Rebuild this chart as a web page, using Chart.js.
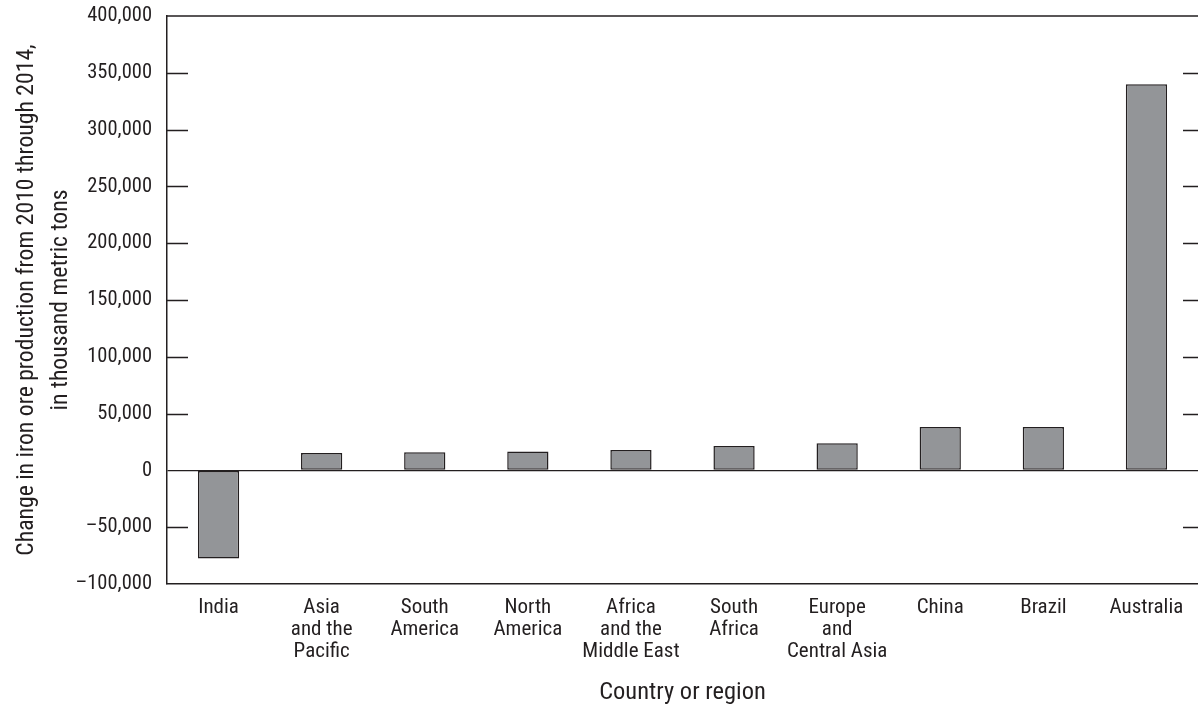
<!doctype html>
<html lang="en">
  <head>
    <meta charset="UTF-8" />
    <title>Change in iron ore production, 2010 through 2014</title>
    <script src="https://cdn.jsdelivr.net/npm/chart.js@4.4.0/dist/chart.umd.min.js"></script>
    <style>
      html, body {
        margin: 0;
        padding: 0;
        background: #ffffff;
      }
      #wrap {
        width: 1198px;
        height: 709px;
        position: relative;
      }
    </style>
  </head>
  <body>
    <div id="wrap"><canvas id="chart"></canvas></div>
    <script>
      // data (thousand metric tons)
      const regions = [
        "India",
        ["Asia", "and the", "Pacific"],
        ["South", "America"],
        ["North", "America"],
        ["Africa", "and the", "Middle East"],
        ["South", "Africa"],
        ["Europe", "and", "Central Asia"],
        "China",
        "Brazil",
        "Australia",
      ];
      const changes = [-77500, 15300, 16000, 16700, 18000, 21500, 24000, 38300, 38300, 340000];
      const yTicks = [-100000, -50000, 0, 50000, 100000, 150000, 200000, 250000, 300000, 350000, 400000];

      const FONT = "'Roboto Condensed', 'Roboto', sans-serif";
      const INK = "#231f20";

      function fmt(v) {
        const s = Math.abs(v).toLocaleString("en-US");
        return v < 0 ? "\u2013" + s : s;
      }

      // short inside tick marks on left and right edges, plus top border
      const frame = {
        id: "frame",
        afterDatasetsDraw(chart) {
          const { ctx, chartArea } = chart;
          const y = chart.scales.y;
          ctx.save();
          ctx.strokeStyle = INK;
          ctx.lineWidth = 1.3;
          ctx.beginPath();
          ctx.moveTo(chartArea.left, chartArea.top);
          ctx.lineTo(chartArea.right, chartArea.top);
          yTicks.forEach((t) => {
            if (t === 0 || t === yTicks[0] || t === yTicks[yTicks.length - 1]) return;
            const py = Math.round(y.getPixelForValue(t)) + 0.5;
            ctx.moveTo(chartArea.left, py);
            ctx.lineTo(chartArea.left + 21, py);
            ctx.moveTo(chartArea.right - 15, py);
            ctx.lineTo(chartArea.right, py);
          });
          ctx.stroke();
          ctx.restore();
        },
      };

      new Chart(document.getElementById("chart"), {
        type: "bar",
        data: {
          labels: regions,
          datasets: [
            {
              data: changes,
              backgroundColor: "#939598",
              borderColor: INK,
              borderWidth: 1.5,
              borderSkipped: false,
              barPercentage: 0.4,
              categoryPercentage: 1.0,
            },
          ],
        },
        options: {
          responsive: true,
          maintainAspectRatio: false,
          animation: false,
          layout: { padding: { top: 16, right: 0, left: 0, bottom: 0 } },
          plugins: {
            legend: { display: false },
            tooltip: { enabled: false },
          },
          scales: {
            x: {
              grid: { display: false, drawTicks: false },
              border: { display: true, color: INK, width: 1.5 },
              ticks: {
                color: INK,
                font: { family: FONT, size: 21, lineHeight: 1.05 },
                padding: 13,
                maxRotation: 0,
                autoSkip: false,
              },
              title: {
                display: true,
                text: "Country or region",
                color: INK,
                font: { family: FONT, size: 24.5 },
                padding: { top: 0, bottom: 1 },
              },
              afterFit(scale) {
                scale.height = 125;
                scale.paddingLeft = 0;
                scale.paddingRight = 0;
              },
            },
            y: {
              min: -100000,
              max: 400000,
              afterBuildTicks(scale) {
                scale.ticks = yTicks.map((v) => ({ value: v }));
              },
              grid: {
                drawTicks: false,
                color: (c) => (c.tick && c.tick.value === 0 ? INK : "rgba(0,0,0,0)"),
                lineWidth: 1.3,
              },
              border: { display: true, color: INK, width: 1.5 },
              ticks: {
                color: INK,
                font: { family: FONT, size: 20.5 },
                padding: 15,
                callback: (v) => fmt(v),
              },
              title: {
                display: true,
                text: ["Change in iron ore production from 2010 through 2014,", "in thousand metric tons"],
                color: INK,
                font: { family: FONT, size: 23.7, lineHeight: 1.435 },
                padding: { top: 10, bottom: 0 },
              },
              afterFit(scale) {
                scale.width = 167;
                scale.paddingTop = 0;
                scale.paddingBottom = 0;
              },
            },
          },
        },
        plugins: [frame],
      });
    </script>
  </body>
</html>
